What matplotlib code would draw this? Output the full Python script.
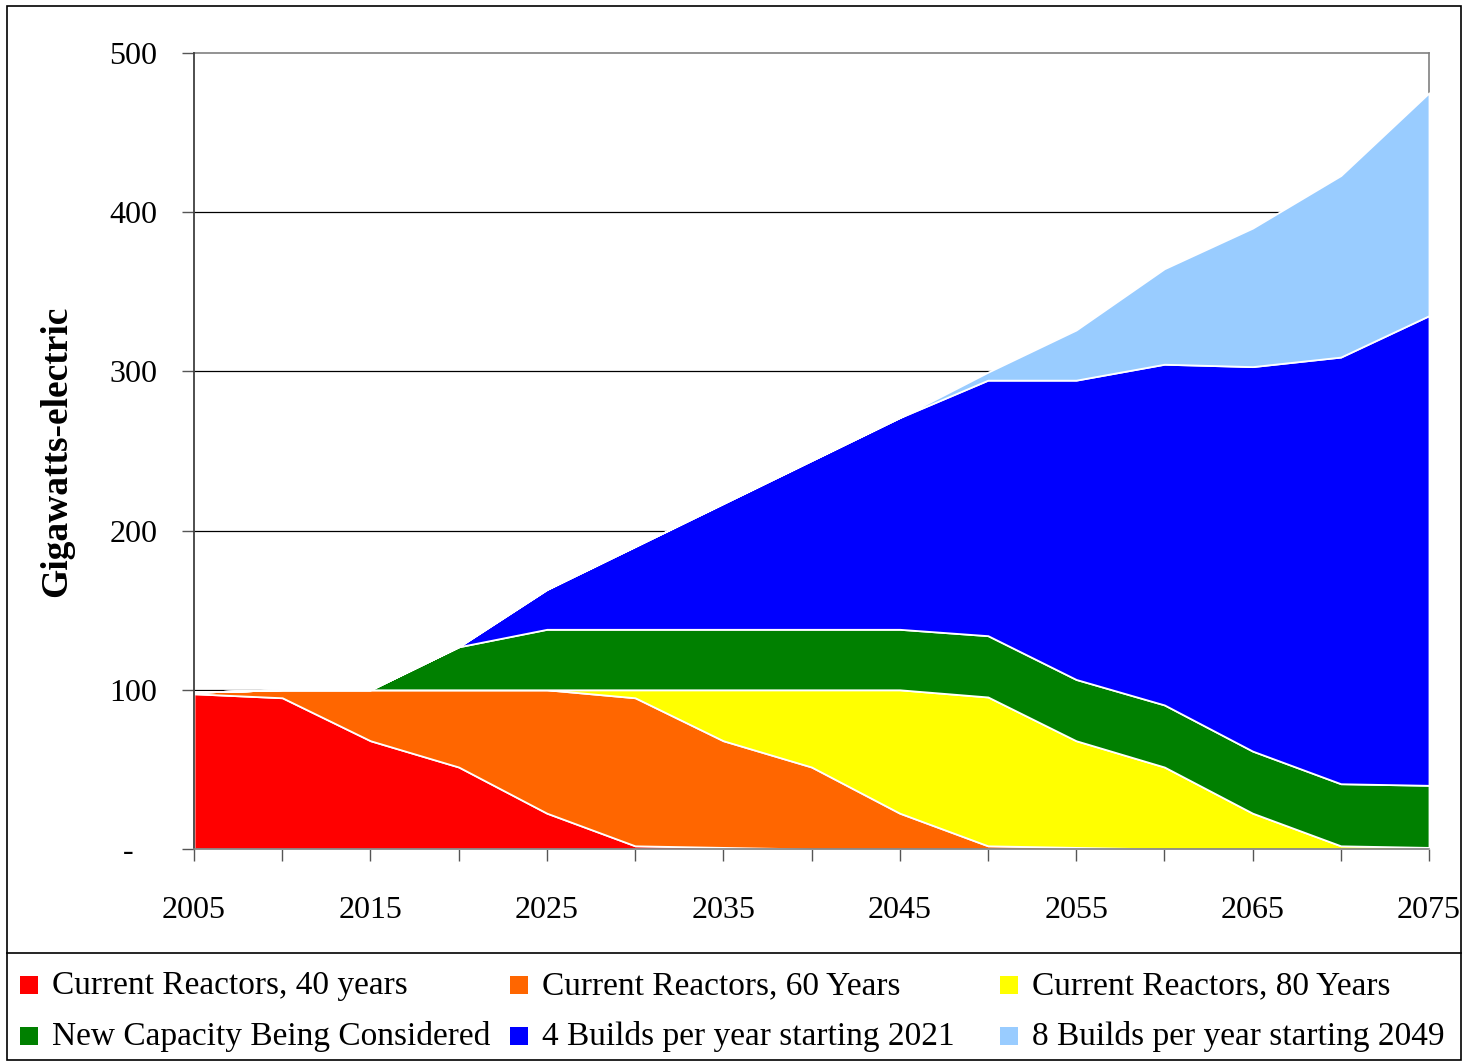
import numpy as np
import matplotlib
matplotlib.use("Agg")
import matplotlib.pyplot as plt
from matplotlib.patches import Rectangle
from matplotlib.lines import Line2D

plt.rcParams['font.family'] = ['Liberation Serif', 'DejaVu Serif']

# data (GWe), one value per 5-year step
years = [2005, 2010, 2015, 2020, 2025, 2030, 2035, 2040, 2045, 2050, 2055, 2060, 2065, 2070, 2075]
current_40 = [97.5, 95, 68, 51.5, 22.5, 2, 1, 0, 0, 0, 0, 0, 0, 0, 0]
current_60 = [1, 5, 32, 48.5, 77.5, 93, 67, 51.5, 22.5, 2, 1, 0, 0, 0, 0]
current_80 = [0, 0, 0, 0, 0, 5, 32, 48.5, 77.5, 93.5, 67, 51.5, 22.5, 2, 1]
new_capacity = [0, 0, 0, 27, 38, 38, 38, 38, 38, 38.5, 38.5, 39, 39, 39, 39]
builds_4 = [0, 0, 0, 0, 25, 52, 79, 106, 133, 160.5, 188, 214, 241.5, 268, 295]
builds_8 = [0, 0, 0, 0, 0, 0, 0, 0, 0, 5, 31.5, 60, 87, 114, 140]

labels = ["Current Reactors, 40 years", "Current Reactors, 60 Years",
          "Current Reactors, 80 Years", "New Capacity Being Considered",
          "4 Builds per year starting 2021", "8 Builds per year starting 2049"]
colors = ["#FF0000", "#FF6600", "#FFFF00", "#008000", "#0000FF", "#99CCFF"]

yticks = [0, 100, 200, 300, 400, 500]
ytick_labels = ["-   ", "100", "200", "300", "400", "500"]
xtick_labels = [str(y) if (y - 2005) % 10 == 0 else "" for y in years]

W, H = 1463, 1062
fig = plt.figure(figsize=(W / 100, H / 100), dpi=100)
ax = fig.add_axes([194 / W, 1 - 849 / H, (1429 - 194) / W, (849 - 53) / H])

ax.stackplot(years, current_40, current_60, current_80, new_capacity, builds_4, builds_8,
             colors=colors, edgecolor="white", linewidth=1.3, zorder=2)

ax.set_xlim(2005, 2075)
ax.set_ylim(0, 500)
ax.set_yticks(yticks)
ax.set_yticklabels(ytick_labels, fontsize=23)
ax.set_xticks(years)
ax.set_xticklabels(xtick_labels, fontsize=23)
ax.tick_params(axis="x", direction="out", length=8.5, width=1, color="#555555", pad=25)
ax.tick_params(axis="y", direction="out", length=8.5, width=1, color="#555555", pad=18)

for v in yticks[1:-1]:
    ax.axhline(v, color="black", lw=0.9, zorder=1)

for side in ["top", "right", "bottom"]:
    ax.spines[side].set_color("#808080")
    ax.spines[side].set_linewidth(1.2)
    ax.spines[side].set_zorder(1)
ax.spines["bottom"].set_zorder(3)
ax.spines["left"].set_color("#404040")
ax.spines["left"].set_linewidth(1.3)

ax.set_ylabel("Gigawatts-electric", fontsize=27, fontweight="bold")
ax.yaxis.set_label_coords(-120 / (1429 - 194), 0.5)

# outer frame and legend separator
fig.add_artist(Rectangle((7 / W, 2 / H), (1461 - 7) / W, (1056 - 2) / H, transform=fig.transFigure,
                         fill=False, edgecolor="black", lw=1.2))
fig.add_artist(Line2D([7 / W, 1461 / W], [1 - 953 / H, 1 - 953 / H], transform=fig.transFigure,
                      color="black", lw=1.2))

# legend, row-wise 3 columns
col_x = [20, 510, 1000]
row_y = [985, 1036]
for i, (lab, c) in enumerate(zip(labels, colors)):
    x = col_x[i % 3]
    y = row_y[i // 3]
    fig.add_artist(Rectangle((x / W, 1 - (y + 9) / H), 18 / W, 18 / H, transform=fig.transFigure,
                             facecolor=c, edgecolor="none"))
    fig.text((x + 32) / W, 1 - (y + 1) / H, lab, fontsize=24, va="center", ha="left")

fig.savefig("out.png", dpi=100)
